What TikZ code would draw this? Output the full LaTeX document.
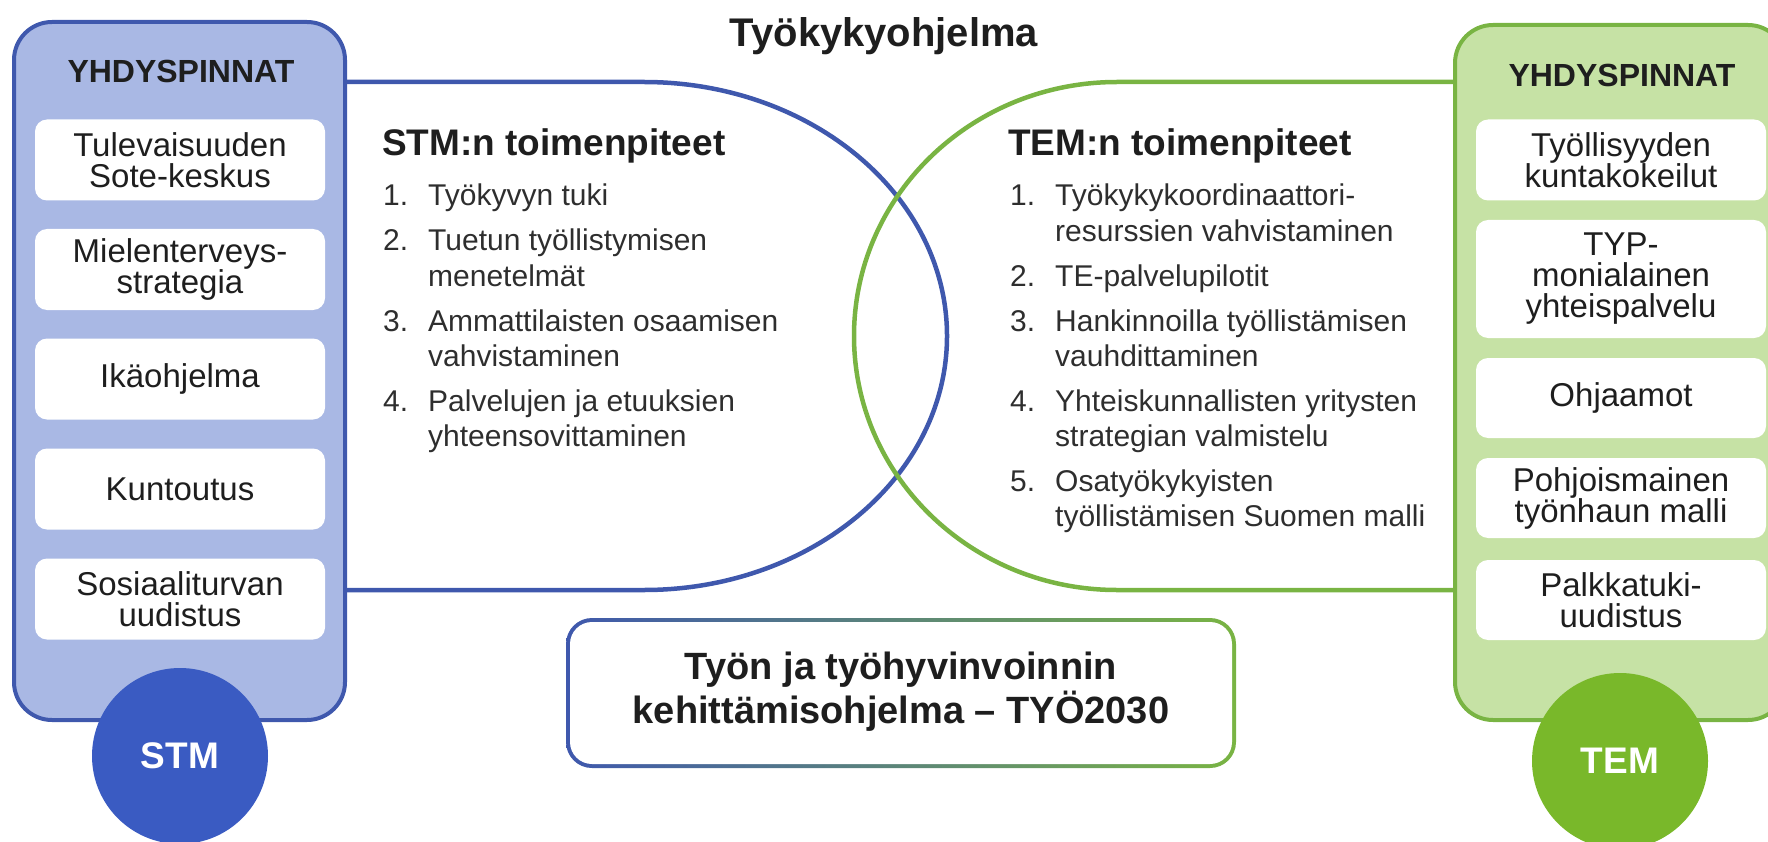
\documentclass[tikz,border=0pt]{standalone}
\usepackage{fontspec}
\setmainfont{Liberation Sans}
\newcommand\setfs[2]{\fontsize{#1}{#2}\selectfont}
\definecolor{bstroke}{HTML}{3F58AD}
\definecolor{bfill}{HTML}{A9B8E4}
\definecolor{bcirc}{HTML}{3A5BC2}
\definecolor{gstroke}{HTML}{79B443}
\definecolor{gfill}{HTML}{C6E2A5}
\definecolor{gcirc}{HTML}{79B82A}
\definecolor{txt}{HTML}{1E1E1E}
\definecolor{ltxt}{HTML}{2E2E2E}
\tikzset{
  wbox/.style={fill=white, rounded corners=12pt, minimum width=290pt, minimum height=81pt,
    align=center, font=\setfs{33}{31}, text=txt, inner sep=0pt},
  hdr/.style={font=\setfs{32}{36}\bfseries, text=txt, inner sep=0pt},
  li/.style={anchor=base west, inner sep=0pt, font=\setfs{30}{35}, text=ltxt},
  mhead/.style={anchor=base west, inner sep=0pt, font=\setfs{37}{40}\bfseries, text=txt},
  mcirc/.style={circle, minimum size=176pt, inner sep=0pt, text=white, font=\setfs{37}{40}\bfseries},
  outl/.style={line width=4.5pt}
}
\begin{document}
\begin{tikzpicture}[x=1pt, y=-1pt, line join=round]
\useasboundingbox (0,0) rectangle (1768,842);
\begin{scope}
\clip (0,0) rectangle (1768,842);
% overlapping outlines
\draw[bstroke, outl] (345,82) -- (644,82) arc[start angle=-90, end angle=90, x radius=303, y radius=254] -- (345,590);
\draw[gstroke, outl] (1455,82) -- (1117,82) arc[start angle=270, end angle=90, x radius=263, y radius=254] -- (1455,590);
% side panels
\draw[bstroke, line width=4pt, fill=bfill, rounded corners=38pt] (14,22) rectangle (345,720);
\draw[gstroke, line width=4pt, fill=gfill, rounded corners=38pt] (1455,25) rectangle (1786,720);
% left panel content
\node[hdr] (lhdr) at (181,71) {YHDYSPINNAT};
\node[wbox] (l1) at (180,160) {Tulevaisuuden\\Sote-keskus};
\node[wbox] (l2) at (180,269.5) {Mielenterveys-\\strategia};
\node[wbox] (l3) at (180,379) {Ikäohjelma};
\node[wbox] (l4) at (180,489) {Kuntoutus};
\node[wbox] (l5) at (180,599) {Sosiaaliturvan\\uudistus};
\node[mcirc, fill=bcirc] (stm) at (180,756) {STM};
% right panel content
\node[hdr] (rhdr) at (1622,75) {YHDYSPINNAT};
\node[wbox] (r1) at (1621,160) {Työllisyyden\\kuntakokeilut};
\node[wbox, minimum height=118pt] (r2) at (1621,279) {TYP-\\monialainen\\yhteispalvelu};
\node[wbox, minimum height=80pt] (r3) at (1621,398) {Ohjaamot};
\node[wbox, minimum height=80pt] (r4) at (1621,498) {Pohjoismainen\\työnhaun malli};
\node[wbox, minimum height=80pt] (r5) at (1621,600) {Palkkatuki-\\uudistus};
\node[mcirc, fill=gcirc] (tem) at (1620,761) {TEM};
\end{scope}
% title
\node[anchor=base, inner sep=0pt, font=\setfs{40}{44}\bfseries, text=txt] (title) at (884,47) {Työkykyohjelma};
% STM list
\node[mhead] (stmh) at (382,156) {STM:n toimenpiteet};
\node[li] (s1n) at (383,206) {1.};
\node[li] (s1a) at (428,206) {Työkyvyn tuki};
\node[li] (s2n) at (383,251) {2.};
\node[li] (s2a) at (428,251) {Tuetun työllistymisen};
\node[li] (s2b) at (428,286) {menetelmät};
\node[li] (s3n) at (383,331) {3.};
\node[li] (s3a) at (428,331) {Ammattilaisten osaamisen};
\node[li] (s3b) at (428,366) {vahvistaminen};
\node[li] (s4n) at (383,411) {4.};
\node[li] (s4a) at (428,411) {Palvelujen ja etuuksien};
\node[li] (s4b) at (428,446) {yhteensovittaminen};
% TEM list
\node[mhead] (temh) at (1008,156) {TEM:n toimenpiteet};
\node[li] (t1n) at (1010,206) {1.};
\node[li] (t1a) at (1055,206) {Työkykykoordinaattori-};
\node[li] (t1b) at (1055,241) {resurssien vahvistaminen};
\node[li] (t2n) at (1010,286) {2.};
\node[li] (t2a) at (1055,286) {TE-palvelupilotit};
\node[li] (t3n) at (1010,331) {3.};
\node[li] (t3a) at (1055,331) {Hankinnoilla työllistämisen};
\node[li] (t3b) at (1055,366) {vauhdittaminen};
\node[li] (t4n) at (1010,411) {4.};
\node[li] (t4a) at (1055,411) {Yhteiskunnallisten yritysten};
\node[li] (t4b) at (1055,446) {strategian valmistelu};
\node[li] (t5n) at (1010,491) {5.};
\node[li] (t5a) at (1055,491) {Osatyökykyisten};
\node[li] (t5b) at (1055,526) {työllistämisen Suomen malli};
% programme box with gradient border
\shade[left color=bstroke, right color=gstroke, rounded corners=26pt] (566,618) rectangle (1236,768);
\fill[white, rounded corners=22pt] (570,622) rectangle (1232,764);
\node[align=center, inner sep=0pt, font=\setfs{38}{44}\bfseries, text=txt] (prog) at (901,692) {Työn ja työhyvinvoinnin\\kehittämisohjelma – TYÖ2030};
\end{tikzpicture}
\end{document}
